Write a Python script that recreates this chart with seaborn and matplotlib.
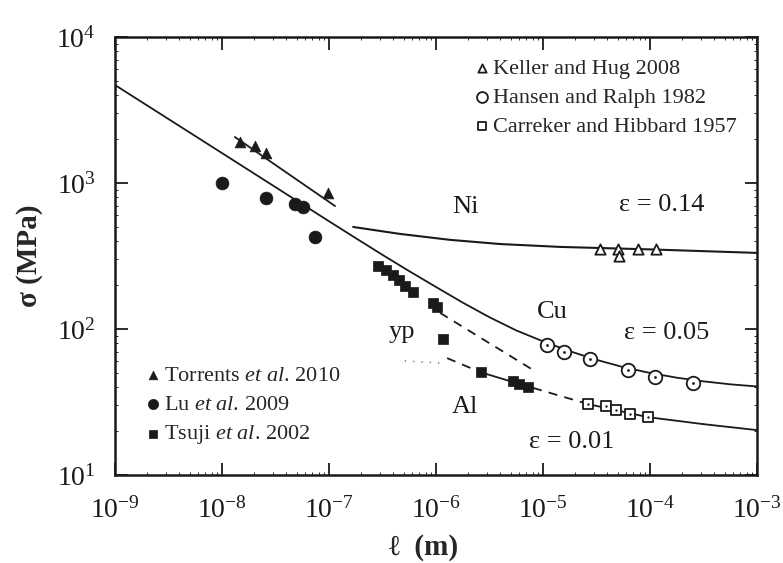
import numpy as np
import pandas as pd
import matplotlib
matplotlib.use("Agg")
import matplotlib.pyplot as plt
import seaborn as sns

# ---------------- data ----------------
# Filled symbols
torrents_l = [1.47e-8, 2.05e-8, 2.6e-8, 9.8e-8]
torrents_s = [1910, 1790, 1600, 855]
lu_l = [1.0e-8, 2.6e-8, 4.8e-8, 5.7e-8, 7.4e-8]
lu_s = [1000, 790, 718, 686, 427]
tsuji_l = [2.87e-7, 3.41e-7, 3.96e-7, 4.51e-7, 5.13e-7, 6.09e-7, 9.37e-7,
           1.02e-6, 1.16e-6, 2.64e-6, 5.25e-6, 5.97e-6, 7.25e-6]
tsuji_s = [270, 253, 234, 217, 197, 179, 151, 141, 85.5, 50.7, 44.0, 42.0, 40.1]
# Open symbols
keller_l = [3.41e-5, 5.02e-5, 5.12e-5, 7.73e-5, 1.14e-4]
keller_s = [352, 352, 318, 352, 352]
hansen_l = [1.09e-5, 1.57e-5, 2.75e-5, 6.22e-5, 1.11e-4, 2.52e-4]
hansen_s = [78, 70, 62.5, 52, 47, 43]
carreker_l = [2.64e-5, 3.88e-5, 4.81e-5, 6.50e-5, 9.57e-5]
carreker_s = [30.6, 29.7, 27.9, 26.2, 25.0]

# Curves
cu_l = [1e-9, 1e-8, 1e-7, 1.78e-7, 3.16e-7, 5.62e-7, 1e-6, 1.78e-6, 3.16e-6,
        5.62e-6, 1e-5, 1.78e-5, 3.16e-5, 5.62e-5, 1e-4, 1.78e-4, 3.16e-4,
        5.62e-4, 1e-3]
cu_s = [4690, 1603, 547, 419, 322, 249, 194, 151.5, 120.4, 97.8, 82.3, 70.5,
        61.5, 54.8, 50.0, 46.4, 43.8, 41.8, 40.4]
ni_l = [1.68e-7, 4.61e-7, 1.35e-6, 3.96e-6, 1.44e-5, 1e-4, 1e-3]
ni_s = [500, 448, 408, 382, 365, 351, 332]
al_l = [1.27e-6, 2.58e-6, 5.25e-6, 8.07e-6, 2.64e-5, 9.57e-5, 3.16e-4, 1e-3]
al_s = [63.2, 50.7, 43.3, 39.5, 30.6, 24.9, 22.3, 20.3]
al_style = ["--", "-", "-", "--", "-", "-", "-"]   # style of each segment
al_dot_l = [5.1e-7, 1.09e-6]
al_dot_s = [60.4, 58.5]
yp_l = [1.09e-6, 8.07e-6]
yp_s = [129, 52.4]
tfit_l = [1.32e-8, 1.14e-7]
tfit_s = [2065, 695]

# ---------------- styling ----------------
sns.set_theme(style="ticks")
plt.rcParams["font.family"] = ["Liberation Serif", "DejaVu Serif"]
plt.rcParams["mathtext.fontset"] = "custom"
plt.rcParams["mathtext.rm"] = "Liberation Serif"
plt.rcParams["mathtext.it"] = "Liberation Serif:italic"
plt.rcParams["mathtext.bf"] = "Liberation Serif:bold"

fig = plt.figure(figsize=(7.83, 5.63), dpi=100)
ax = fig.add_axes([115 / 783, 1 - 475 / 563, 642 / 783, 438 / 563])
ax.set_xscale("log")
ax.set_yscale("log")
ax.set_xlim(1e-9, 1e-3)
ax.set_ylim(10, 1e4)

lw = 1.3
# curves
sns.lineplot(x=cu_l, y=cu_s, ax=ax, color="k", lw=lw, sort=False, estimator=None)
sns.lineplot(x=ni_l, y=ni_s, ax=ax, color="k", lw=lw + 0.2, sort=False, estimator=None)
sns.lineplot(x=tfit_l, y=tfit_s, ax=ax, color="k", lw=lw, sort=False, estimator=None)
sns.lineplot(x=yp_l, y=yp_s, ax=ax, color="k", lw=lw, linestyle=(0, (5, 4)),
             sort=False, estimator=None)
for i, st in enumerate(al_style):
    ls = (0, (5, 4)) if st == "--" else "-"
    sns.lineplot(x=al_l[i:i + 2], y=al_s[i:i + 2], ax=ax, color="k", lw=lw,
                 linestyle=ls, sort=False, estimator=None)
sns.lineplot(x=al_dot_l, y=al_dot_s, ax=ax, color="0.45", lw=1.0,
             linestyle=(0, (1, 5)), sort=False, estimator=None)

# data points
handles = {}
def scat(xv, yv, marker, s, filled, label):
    n0 = len(ax.collections)
    if filled:
        sns.scatterplot(x=xv, y=yv, ax=ax, marker=marker, s=s, color="k",
                        edgecolor="k", linewidth=0.5, zorder=5)
    else:
        sns.scatterplot(x=xv, y=yv, ax=ax, marker=marker, s=s, facecolor="white",
                        edgecolor="k", linewidth=1.3, zorder=5)
    handles[label] = ax.collections[n0]

scat(torrents_l, torrents_s, "^", 60, True, "torr")
scat(lu_l, lu_s, "o", 85, True, "lu")
scat(tsuji_l, tsuji_s, "s", 45, True, "tsuji")
scat(keller_l, keller_s, "^", 55, False, "keller")
scat(hansen_l, hansen_s, "o", 95, False, "hansen")
scat(carreker_l, carreker_s, "s", 50, False, "carreker")
# centre dots of open circles / squares
sns.scatterplot(x=hansen_l, y=hansen_s, ax=ax, marker="o", s=4, color="k",
                edgecolor="k", linewidth=0, zorder=6)
sns.scatterplot(x=carreker_l, y=carreker_s, ax=ax, marker="o", s=3, color="k",
                edgecolor="k", linewidth=0, zorder=6)

# annotations
tk = dict(fontsize=19, color="k", ha="center", va="center")
ax.text(10 ** -5.729, 685, "Ni", **tk)
ax.text(10 ** -3.888, 706, "ε = 0.14", **tk)
ax.text(10 ** -4.916, 131, "Cu", **tk)
ax.text(10 ** -3.841, 94, "ε = 0.05", **tk)
ax.text(10 ** -6.318, 95, "yp", **tk)
ax.text(10 ** -5.729, 29.2, "Al", **tk)
ax.text(10 ** -4.729, 16.8, "ε = 0.01", **tk)

# legends
leg_kw = dict(frameon=False, fontsize=16, handletextpad=0.1, handlelength=0.8,
              labelspacing=0.38, borderpad=0, borderaxespad=0, markerscale=0.8)
leg1 = ax.legend([handles["torr"], handles["lu"], handles["tsuji"]],
                 [r"Torrents $\it{et\ al}$. 2010", r"Lu $\it{et\ al}$. 2009",
                  r"Tsuji $\it{et\ al}$. 2002"],
                 loc="upper left", bbox_to_anchor=(0.045, 0.250), **leg_kw)
ax.add_artist(leg1)
leg2 = ax.legend([handles["keller"], handles["hansen"], handles["carreker"]],
                 ["Keller and Hug 2008", "Hansen and Ralph 1982",
                  "Carreker and Hibbard 1957"],
                 loc="upper left", bbox_to_anchor=(0.558, 0.952), **leg_kw)

# axes formatting
ax.set_xticks([1e-9, 1e-8, 1e-7, 1e-6, 1e-5, 1e-4, 1e-3])
ax.set_yticks([1e1, 1e2, 1e3, 1e4])
ax.tick_params(which="major", direction="in", length=9, width=1.3,
               top=True, right=True, labelsize=20, colors="k")
ax.tick_params(axis="x", which="major", pad=16)
ax.tick_params(axis="y", which="major", pad=14)
ax.tick_params(which="minor", direction="in", length=2.5, width=0.7,
               top=True, right=True)
for sp in ax.spines.values():
    sp.set_linewidth(1.8)
    sp.set_color("k")
    sp.set_visible(True)

ax.set_xlabel("ℓ  (m)", fontsize=21, fontweight="bold")
ax.xaxis.set_label_coords(0.48, -0.135)
ax.set_ylabel("σ (MPa)", fontsize=21, fontweight="bold")
ax.yaxis.set_label_coords(-0.112, 0.5)

fig.savefig("out.png", dpi=100, facecolor="white")
